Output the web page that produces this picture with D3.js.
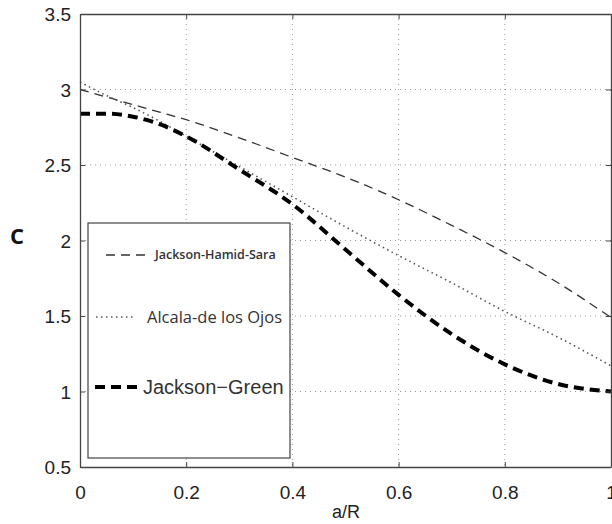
<!DOCTYPE html>
<html>
<head>
<meta charset="utf-8">
<script src="https://cdn.jsdelivr.net/npm/d3@7"></script>
<style>
body { margin:0; background:#fff; }
svg { display:block; }
</style>
</head>
<body>
<svg id="basicSVG" width="612" height="524"></svg>
<script>
// values
var aR = [0, 0.05, 0.1, 0.15, 0.2, 0.3, 0.4, 0.5, 0.6, 0.7, 0.8, 0.9, 1.0];
var hamidSara = [3.0, 2.95, 2.9, 2.85, 2.8, 2.68, 2.55, 2.42, 2.27, 2.1, 1.92, 1.72, 1.49];
var alcala = [3.05, 2.96, 2.88, 2.79, 2.69, 2.49, 2.29, 2.09, 1.9, 1.72, 1.53, 1.36, 1.17];
var jacksonGreen = [2.84, 2.84, 2.82, 2.77, 2.69, 2.47, 2.24, 1.94, 1.64, 1.38, 1.18, 1.05, 1.0];
var xTicks = [0, 0.2, 0.4, 0.6, 0.8, 1];
var yTicks = [0.5, 1, 1.5, 2, 2.5, 3, 3.5];
var xTickLabels = ["0", "0.2", "0.4", "0.6", "0.8", "1"];
var yTickLabels = ["0.5", "1", "1.5", "2", "2.5", "3", "3.5"];
var seriesNames = ["Jackson-Hamid-Sara", "Alcala-de los Ojos", "Jackson\u2212Green"];

var svg = d3.select("#basicSVG");
var plotLeft = 80, plotRight = 611, plotTop = 14, plotBottom = 467;

var x = d3.scaleLinear().domain([0, 1]).range([plotLeft, plotRight]);
var y = d3.scaleLinear().domain([0.5, 3.5]).range([plotBottom, plotTop]);

// grid
var grid = svg.append("g").attr("id", "grid");
xTicks.forEach(function(t)
{
	if (t == 0 || t == 1) return;
	grid.append("line").attr("x1", x(t)).attr("x2", x(t)).attr("y1", plotTop).attr("y2", plotBottom)
		.attr("stroke", "#999").attr("stroke-width", 1).attr("stroke-dasharray", "1,4");
});
yTicks.forEach(function(t)
{
	if (t == 0.5 || t == 3.5) return;
	grid.append("line").attr("x1", plotLeft).attr("x2", plotRight).attr("y1", y(t)).attr("y2", y(t))
		.attr("stroke", "#999").attr("stroke-width", 1).attr("stroke-dasharray", "1,4");
});

// curves
function makeLine(vals)
{
	return d3.line()
		.x(function(d, i) { return x(aR[i]); })
		.y(function(d) { return y(d); })
		.curve(d3.curveMonotoneX)(vals);
}

var styles = [
	{ data: hamidSara, stroke: "#333", width: 1.3, dash: "9,6" },
	{ data: alcala, stroke: "#555", width: 1.6, dash: "1.5,3.5" },
	{ data: jacksonGreen, stroke: "#000", width: 4, dash: "10,6" }
];

styles.forEach(function(s)
{
	svg.append("path").attr("d", makeLine(s.data))
		.attr("fill", "none").attr("stroke", s.stroke)
		.attr("stroke-width", s.width).attr("stroke-dasharray", s.dash);
});

// axes (box with inward ticks)
var xAxisB = d3.axisBottom(x).tickValues(xTicks).tickSizeInner(-5).tickSizeOuter(0)
	.tickFormat(function(d, i) { return xTickLabels[i]; });
var yAxisL = d3.axisLeft(y).tickValues(yTicks).tickSizeInner(-5).tickSizeOuter(0)
	.tickFormat(function(d, i) { return yTickLabels[i]; });
var xAxisT = d3.axisTop(x).tickValues(xTicks).tickSizeInner(-5).tickSizeOuter(0).tickFormat("");
var yAxisR = d3.axisRight(y).tickValues(yTicks).tickSizeInner(-5).tickSizeOuter(0).tickFormat("");

function styleAxis(g)
{
	g.selectAll("path").attr("stroke", "#444").attr("stroke-width", 1.3);
	g.selectAll("line").attr("stroke", "#444").attr("stroke-width", 1);
	g.selectAll("text").attr("fill", "#222").attr("font-family", "Liberation Sans, Arial, sans-serif")
		.attr("font-size", 19);
}

var gb = svg.append("g").attr("transform", "translate(0," + plotBottom + ")").call(xAxisB);
styleAxis(gb);
gb.selectAll("text").attr("dy", null).attr("y", 32);

var gl = svg.append("g").attr("transform", "translate(" + plotLeft + ",0)").call(yAxisL);
styleAxis(gl);
gl.selectAll("text").attr("x", -9).attr("dy", "0.35em");

var gt = svg.append("g").attr("transform", "translate(0," + plotTop + ")").call(xAxisT);
styleAxis(gt);
var gr = svg.append("g").attr("transform", "translate(" + plotRight + ",0)").call(yAxisR);
styleAxis(gr);

// axis labels
svg.append("text").attr("x", 346).attr("y", 518).attr("text-anchor", "middle")
	.attr("font-family", "Liberation Sans, Arial, sans-serif").attr("font-size", 18).attr("fill", "#222")
	.text("a/R");
svg.append("text").attr("x", 17).attr("y", 244).attr("text-anchor", "middle")
	.attr("font-family", "Open Sans, sans-serif").attr("font-weight", "bold").attr("font-size", 22).attr("fill", "#111")
	.text("C");

// legend
var legend = svg.append("g").attr("id", "legend");
legend.append("rect").attr("x", 88).attr("y", 223).attr("width", 202).attr("height", 235)
	.attr("fill", "#fff").attr("stroke", "#444").attr("stroke-width", 1.2);

var legItems = [
	{ x1: 106, x2: 148, ty: 255, tx: 155, size: 12.5, font: "Open Sans, sans-serif", weight: "600" },
	{ x1: 96, x2: 136, ty: 317, tx: 147, size: 16.5, font: "Open Sans, sans-serif", weight: "normal" },
	{ x1: 95, x2: 139, ty: 387, tx: 143, size: 20, font: "Liberation Sans, Arial, sans-serif", weight: "normal" }
];

legItems.forEach(function(it, i)
{
	legend.append("line").attr("x1", it.x1).attr("x2", it.x2).attr("y1", it.ty).attr("y2", it.ty)
		.attr("stroke", styles[i].stroke).attr("stroke-width", styles[i].width)
		.attr("stroke-dasharray", styles[i].dash);
	legend.append("text").attr("x", it.tx).attr("y", it.ty).attr("dy", "0.35em")
		.attr("font-family", it.font).attr("font-size", it.size).attr("font-weight", it.weight)
		.attr("fill", "#333").text(seriesNames[i]);
});
</script>
</body>
</html>
